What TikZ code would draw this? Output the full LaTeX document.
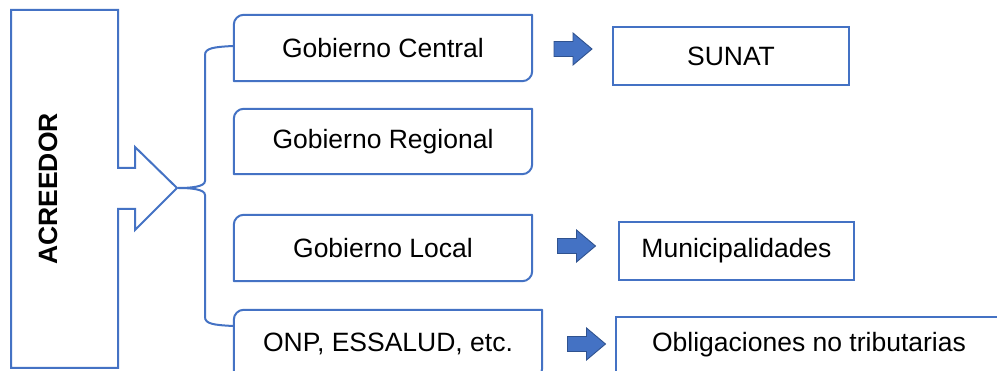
\documentclass[tikz,border=0pt]{standalone}
\usepackage{fontspec}
\setmainfont{Liberation Sans}
\definecolor{obox}{HTML}{4472C4}
\definecolor{oarrow}{HTML}{4472C4}
\definecolor{oarrowline}{HTML}{2F528F}
\tikzset{
  txt/.style={inner sep=0pt, font=\fontsize{26.5}{30}\selectfont, text=black},
  boxline/.style={draw=obox, line width=2pt, line join=round},
  rectline/.style={draw=obox, line width=2.4pt},
  blockarrow/.style={fill=oarrow, draw=oarrowline, line width=0.9pt, line join=miter},
}
\newcommand\diagbox[1]{%
  \path[boxline] ([yshift=-10pt]#1.north west) arc[start angle=180,end angle=90,radius=10pt]
    -- (#1.north east) -- ([yshift=10pt]#1.south east) arc[start angle=0,end angle=-90,radius=10pt]
    -- (#1.south west) -- cycle;}
% block arrow: #1 = name of centre coordinate
\newcommand\blockarr[1]{%
  \path[blockarrow] ([shift={(-19pt,-7.5pt)}]#1) -- ([shift={(0pt,-7.5pt)}]#1) -- ([shift={(0pt,-16pt)}]#1)
    -- ([shift={(19pt,0pt)}]#1) -- ([shift={(0pt,16pt)}]#1) -- ([shift={(0pt,7.5pt)}]#1)
    -- ([shift={(-19pt,7.5pt)}]#1) -- cycle;}
\begin{document}
\begin{tikzpicture}[x=1pt,y=1pt]
\useasboundingbox (0,0) rectangle (997,371);
\clip (0,0) rectangle (997,371);
\fill[white] (0,0) rectangle (997,371);

% ACREEDOR callout
\path[draw=obox, line width=2pt, line join=miter]
  (11,361) -- (118,361) -- (118,203) -- (135,203) -- (135,224) -- (177,183)
  -- (135,141) -- (135,162) -- (118,162) -- (118,3) -- (11,3) -- cycle;
\node[txt, font=\fontsize{26.5}{30}\selectfont\bfseries, rotate=90] (acr) at (48,182) {ACREEDOR};

% left boxes
\node[txt, minimum width=298pt, minimum height=66pt] (gc) at (383,323) {Gobierno Central};
\node[txt, minimum width=298pt, minimum height=65pt] (gr) at (383,229.5) {Gobierno Regional};
\node[txt, minimum width=298pt, minimum height=66pt] (gl) at (383,123) {Gobierno Local};
\node[txt, minimum width=308pt, minimum height=68pt] (onp) at (388,27) {ONP, ESSALUD, etc.};
\diagbox{gc}
\diagbox{gr}
\diagbox{gl}
\diagbox{onp}

% right boxes
\node[txt, rectline, minimum width=236pt, minimum height=58pt] (sunat) at (731,315) {SUNAT};
\node[txt, rectline, minimum width=235pt, minimum height=58pt] (muni) at (736.5,120) {Municipalidades};
\node[txt, rectline, minimum width=386pt, minimum height=56pt] (obl) at (809,26) {Obligaciones no tributarias};

% brace
\coordinate (btop) at (233,325);
\coordinate (btip) at (178,183);
\coordinate (bbot) at (233,45);
\draw[obox, line width=2pt]
  (btop) .. controls (214,324) and (205,323) .. (205,316) -- (205,190)
  .. controls (205,184) and (190,183) .. (btip)
  .. controls (190,183) and (205,182) .. (205,176) -- (205,54)
  .. controls (205,47) and (214,46) .. (bbot);

% block arrows
\coordinate (a1) at (573,322);
\coordinate (a2) at (576.5,125);
\coordinate (a3) at (586.5,27);
\blockarr{a1}
\blockarr{a2}
\blockarr{a3}
\end{tikzpicture}
\end{document}
